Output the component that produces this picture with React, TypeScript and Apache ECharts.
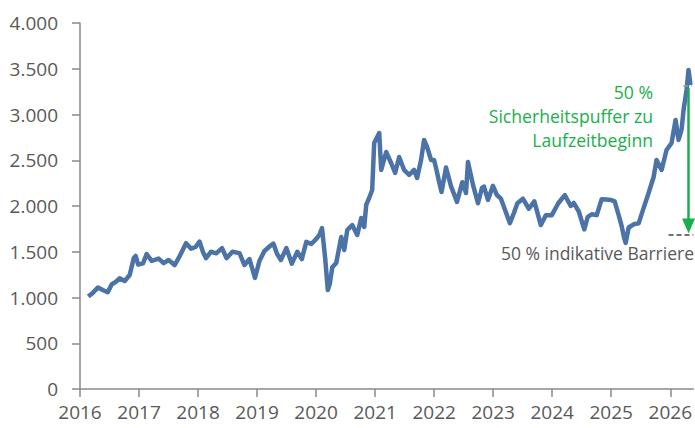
import React, { useEffect, useRef } from "react";
import * as echarts from "echarts";

const dates = [
  2016.14, 2016.216, 2016.306, 2016.385, 2016.47, 2016.538, 2016.605, 2016.673, 2016.757, 2016.842,
  2016.91, 2016.943, 2016.986, 2017.067, 2017.129, 2017.214, 2017.332, 2017.417, 2017.501, 2017.603,
  2017.687, 2017.797, 2017.882, 2017.958, 2018.025, 2018.081, 2018.135, 2018.22, 2018.308, 2018.406,
  2018.482, 2018.583, 2018.702, 2018.786, 2018.871, 2018.964, 2019.04, 2019.124, 2019.226, 2019.276,
  2019.336, 2019.403, 2019.496, 2019.589, 2019.682, 2019.758, 2019.834, 2019.919, 2020.003, 2020.054,
  2020.1, 2020.155, 2020.198, 2020.232, 2020.274, 2020.341, 2020.426, 2020.477, 2020.528, 2020.612,
  2020.697, 2020.764, 2020.815, 2020.849, 2020.899, 2020.95, 2020.984, 2021.069, 2021.103, 2021.187,
  2021.271, 2021.339, 2021.407, 2021.491, 2021.576, 2021.66, 2021.711, 2021.778, 2021.829, 2021.88,
  2021.948, 2021.998, 2022.041, 2022.083, 2022.125, 2022.201, 2022.286, 2022.387, 2022.477, 2022.539,
  2022.573, 2022.658, 2022.742, 2022.81, 2022.844, 2022.911, 2022.996, 2023.063, 2023.131, 2023.283,
  2023.351, 2023.41, 2023.503, 2023.604, 2023.697, 2023.807, 2023.892, 2023.993, 2024.103, 2024.213,
  2024.314, 2024.365, 2024.45, 2024.543, 2024.602, 2024.669, 2024.754, 2024.838, 2024.915, 2024.991,
  2025.058, 2025.126, 2025.177, 2025.219, 2025.244, 2025.295, 2025.38, 2025.464, 2025.549, 2025.633,
  2025.718, 2025.768, 2025.853, 2025.937, 2026.022, 2026.09, 2026.14, 2026.191, 2026.225, 2026.276,
  2026.309, 2026.343,
];

const values = [
  1010, 1050, 1110, 1082, 1057, 1145, 1170, 1210, 1180, 1246,
  1430, 1454, 1360, 1373, 1474, 1400, 1425, 1375, 1410, 1355,
  1450, 1594, 1534, 1552, 1612, 1501, 1430, 1500, 1483, 1540,
  1430, 1500, 1485, 1355, 1420, 1215, 1400, 1508, 1565, 1590,
  1480, 1410, 1540, 1370, 1500, 1420, 1608, 1585, 1640, 1683,
  1758, 1420, 1082, 1150, 1330, 1377, 1661, 1519, 1738, 1792,
  1683, 1869, 1771, 2011, 2088, 2175, 2689, 2798, 2394, 2590,
  2470, 2361, 2536, 2394, 2339, 2394, 2306, 2503, 2722, 2645,
  2503, 2503, 2390, 2266, 2153, 2420, 2215, 2045, 2260, 2142,
  2480, 2230, 2030, 2197, 2212, 2066, 2220, 2120, 2080, 1812,
  1924, 2030, 2080, 1970, 2050, 1792, 1900, 1900, 2030, 2120,
  2000, 2033, 1940, 1745, 1880, 1910, 1900, 2075, 2070, 2066,
  2050, 1900, 1780, 1650, 1596, 1765, 1800, 1810, 1980, 2142,
  2317, 2503, 2394, 2612, 2689, 2940, 2722, 2831, 3050, 3268,
  3487, 3323,
];

const yearTicks = [2016, 2017, 2018, 2019, 2020, 2021, 2022, 2023, 2024, 2025, 2026];

const startLevel = 3310;
const barrierLevel = 1690;
const arrowTop = 3290;
const arrowBottom = 1782;
const arrowX = 2026.31;

const bufferLines = ["50 %", "Sicherheitspuffer zu", "Laufzeitbeginn"];
const barrierLabel = "50 % indikative Barriere";

const FONT = "'Open Sans', 'Noto Sans', sans-serif";

export default function App() {
  const ref = useRef<HTMLDivElement>(null);

  useEffect(() => {
    if (!ref.current) return;
    const chart = echarts.init(ref.current, undefined, { renderer: "svg" });
    const axisColor = "#8a8a8a";
    const labelColor = "#595959";
    const green = "#1aaf4c";

    chart.setOption({
      animation: false,
      backgroundColor: "#ffffff",
      textStyle: { fontFamily: FONT },
      grid: { left: 80, right: 0, top: 23, bottom: 39, containLabel: false },
      xAxis: {
        type: "value",
        min: 2016,
        max: 2026.39,
        axisLine: { show: true, lineStyle: { color: axisColor, width: 1.5 } },
        axisTick: { show: true, length: 8, customValues: yearTicks, lineStyle: { color: axisColor, width: 1.5 } },
        axisLabel: {
          customValues: yearTicks,
          formatter: (v: number) => String(Math.round(v)),
          fontSize: 19,
          color: labelColor,
          fontFamily: FONT,
          margin: 13,
        },
        splitLine: { show: false },
      },
      yAxis: {
        type: "value",
        min: 0,
        max: 4000,
        interval: 500,
        axisLine: { show: true, lineStyle: { color: axisColor, width: 1.5 } },
        axisTick: { show: true, length: 8, lineStyle: { color: axisColor, width: 1.5 } },
        axisLabel: {
          formatter: (v: number) => String(v).replace(/\B(?=(\d{3})+(?!\d))/g, "."),
          fontSize: 19,
          color: labelColor,
          fontFamily: FONT,
          margin: 22,
        },
        splitLine: { show: false },
      },
      series: [
        {
          type: "line",
          data: dates.map((d, i) => [d, values[i]]),
          showSymbol: false,
          symbol: "none",
          lineStyle: { color: "#4b73a8", width: 4.5, join: "round" },
          z: 2,
          markLine: {
            silent: true,
            label: { show: false },
            symbol: ["none", "none"],
            data: [
              [
                { coord: [2025.97, barrierLevel], symbol: "none", lineStyle: { color: "#444444", type: [5, 3], width: 1.5 } },
                { coord: [2026.39, barrierLevel], symbol: "none" },
              ],
              [
                { coord: [2026.22, startLevel], symbol: "none", lineStyle: { color: "#999999", type: [5, 3], width: 1.5 } },
                { coord: [2026.37, startLevel], symbol: "none" },
              ],
              [
                { coord: [arrowX, arrowTop], symbol: "none", lineStyle: { color: green, type: "solid", width: 2.5 } },
                { coord: [arrowX, arrowBottom], symbol: "triangle", symbolSize: [13, 15] },
              ],
            ],
          },
        },
      ],
      graphic: [
        ...bufferLines.map((t, i) => ({
          type: "text",
          x: 653,
          y: 92 + i * 24,
          z: 10,
          style: {
            text: t,
            fill: green,
            font: `17.6px ${FONT}`,
            textAlign: "right",
            textVerticalAlign: "middle",
          },
        })),
        {
          type: "text",
          x: 694,
          y: 253,
          z: 10,
          style: {
            text: barrierLabel,
            fill: "#595959",
            font: `17.5px ${FONT}`,
            textAlign: "right",
            textVerticalAlign: "middle",
          },
        },
      ],
    });

    return () => chart.dispose();
  }, []);

  return (
    <div
      ref={ref}
      style={{ position: "fixed", left: 0, top: 0, width: 695, height: 428 }}
    />
  );
}
